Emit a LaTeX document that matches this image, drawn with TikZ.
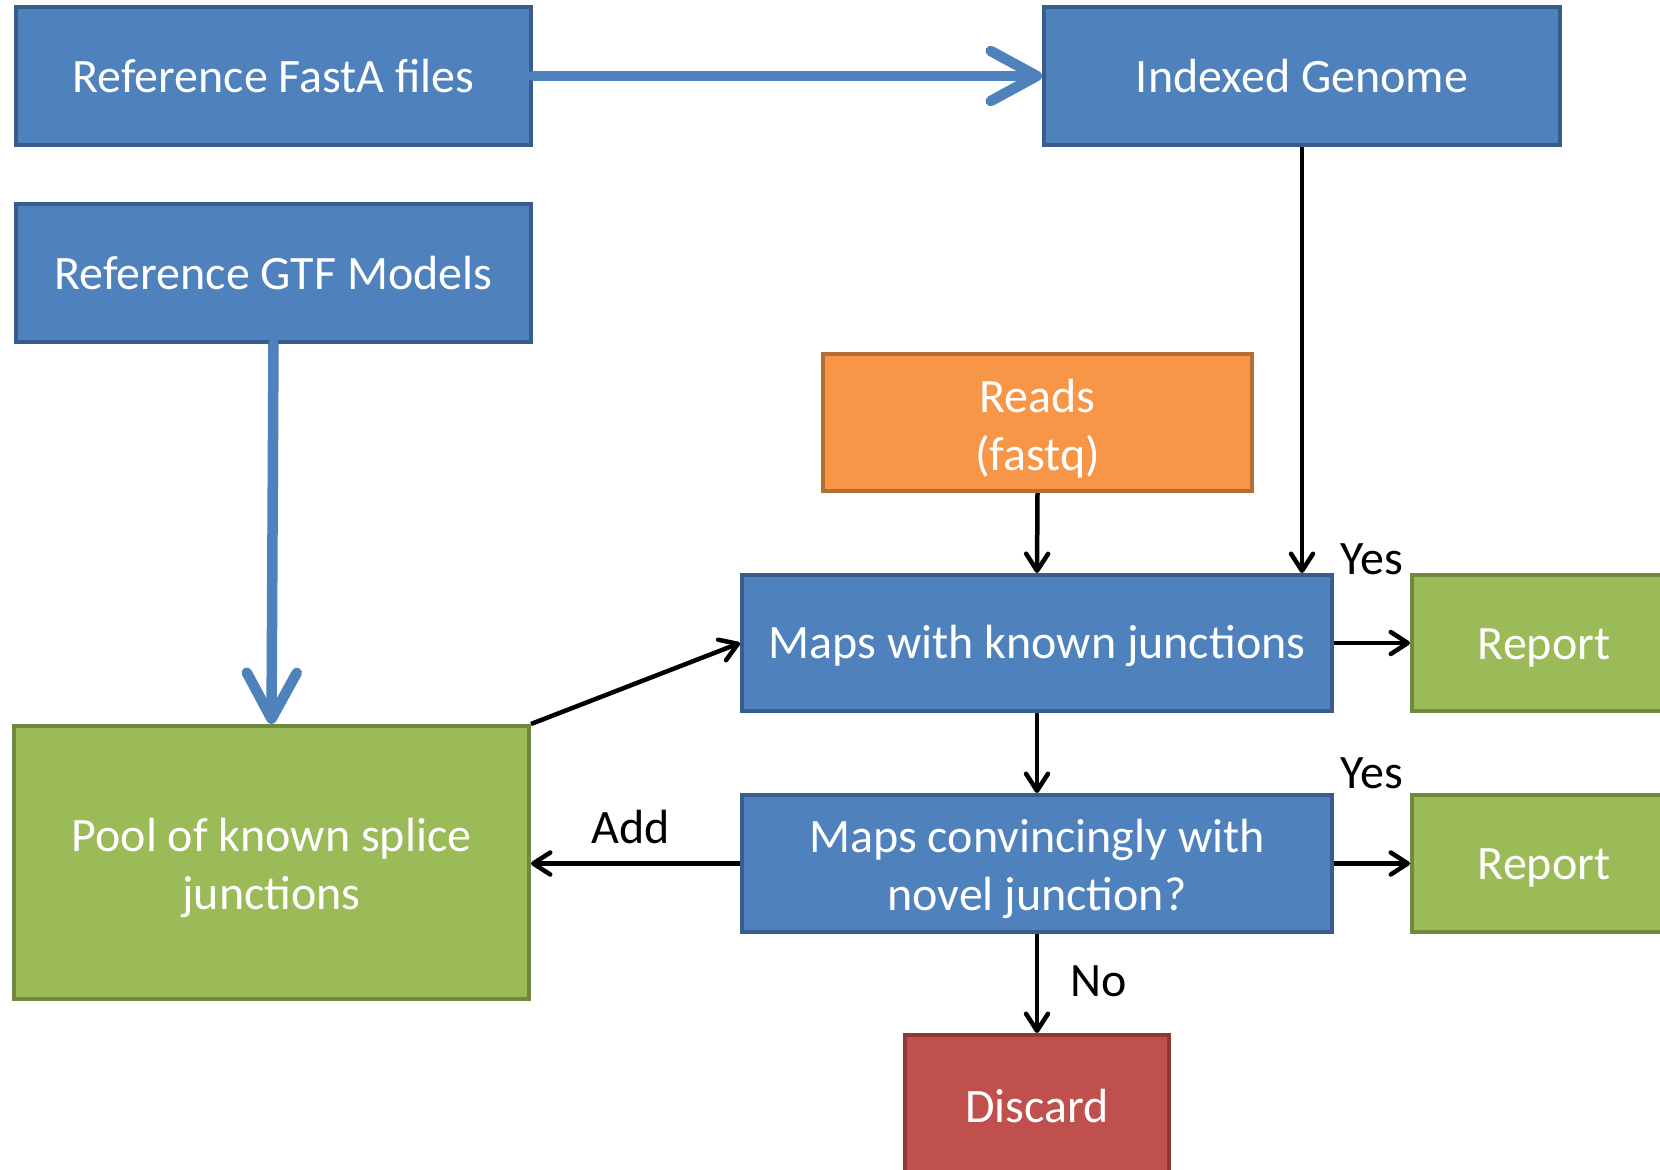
\documentclass[tikz,border=0pt]{standalone}
\usepackage{fontspec}
\setmainfont{Carlito}
\usetikzlibrary{arrows.meta}
\definecolor{bluefill}{HTML}{4F81BD}
\definecolor{blueline}{HTML}{385D8A}
\definecolor{greenfill}{HTML}{9BBB59}
\definecolor{greenline}{HTML}{71893F}
\definecolor{orangefill}{HTML}{F79646}
\definecolor{orangeline}{HTML}{B66D31}
\definecolor{redfill}{HTML}{C0504D}
\definecolor{redline}{HTML}{8C3836}
\newcommand\mystrut{\rule[-7pt]{0pt}{47pt}}
\newcommand\topstrut{\rule[-7pt]{0pt}{52pt}}
\tikzset{
  box/.style={draw, line width=4pt, text=white, align=center, inner sep=0pt,
    font=\fontsize{48}{58}\selectfont},
  bluebox/.style={box, fill=bluefill, draw=blueline},
  greenbox/.style={box, fill=greenfill, draw=greenline},
  orangebox/.style={box, fill=orangefill, draw=orangeline},
  redbox/.style={box, fill=redfill, draw=redline},
  lbl/.style={text=black, inner sep=0pt, font=\fontsize{48}{58}\selectfont},
  blk/.style={draw=black, line width=4.5pt, -{Straight Barb[length=17pt,width=22pt,round]}},
  bigarrow/.style={draw=bluefill, line width=10.5pt, line cap=round, -{Straight Barb[length=46pt,width=50pt,round]}}
}
\begin{document}
\begin{tikzpicture}[x=1pt,y=-1pt]
\useasboundingbox (0,0) rectangle (1660,1170);
\fill[white] (0,0) rectangle (1660,1170);
\clip (0,0) rectangle (1660,1170);

\node[bluebox, minimum width=515pt, minimum height=138pt] (fasta) at (273.5,76) {\mystrut Reference FastA files};
\node[bluebox, minimum width=516pt, minimum height=138pt] (genome) at (1302,76) {\mystrut Indexed Genome};
\node[bluebox, minimum width=515pt, minimum height=138pt] (gtf) at (273.5,273) {\mystrut Reference GTF Models};
\node[orangebox, minimum width=429pt, minimum height=137pt] (reads) at (1037.5,422.5) {\topstrut Reads\\\mystrut(fastq)};
\node[bluebox, minimum width=590pt, minimum height=136pt] (known) at (1037,643) {\mystrut Maps with known junctions};
\node[greenbox, minimum width=264pt, minimum height=136pt] (rep1) at (1544,643) {\mystrut Report};
\node[greenbox, minimum width=515pt, minimum height=273pt] (pool) at (271.5,862.5) {\topstrut Pool of known splice\\\mystrut junctions};
\node[bluebox, minimum width=590pt, minimum height=137pt] (novel) at (1037,863.5) {\topstrut Maps convincingly with\\\mystrut novel junction?};
\node[greenbox, minimum width=264pt, minimum height=137pt] (rep2) at (1544,863.5) {\mystrut Report};
\node[redbox, minimum width=264pt, minimum height=142pt] (discard) at (1037,1106) {\mystrut Discard};

\node[lbl] (yes1) at (1372,559) {Yes};
\node[lbl] (yes2) at (1372,773) {Yes};
\node[lbl] (add) at (631,827) {Add};
\node[lbl] (no) at (1099,981) {No};

\draw[bigarrow] (fasta.east) -- (genome.west);
\draw[bigarrow] (gtf.south) -- (pool.north);
\draw[blk] (genome.south) -- (genome.south |- known.north);
\draw[blk] (reads.south) -- (known.north);
\draw[blk] (pool.north east) -- (known.west);
\draw[blk] (known.east) -- (rep1.west);
\draw[blk] (known.south) -- (novel.north);
\draw[blk] (novel.west) -- (pool.east |- novel.west);
\draw[blk] (novel.east) -- (rep2.west);
\draw[blk] (novel.south) -- (discard.north);
\end{tikzpicture}
\end{document}
